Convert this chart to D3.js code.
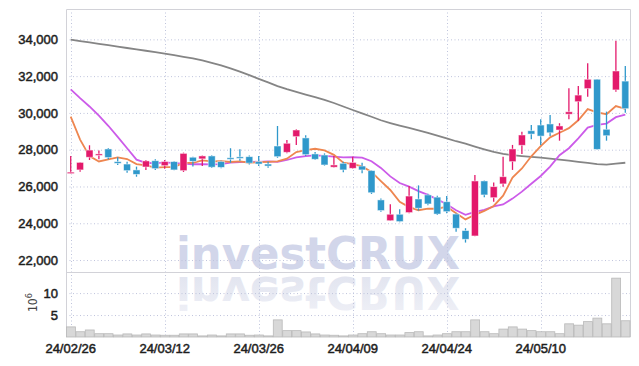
<!DOCTYPE html>
<html>
<head>
<meta charset="utf-8">
<script src="https://cdn.jsdelivr.net/npm/d3@7/dist/d3.min.js"></script>
<style>
  body { margin: 0; background: #fff; }
  svg { display: block; }
</style>
</head>
<body>
<div id="chart"></div>
<script>
const dates = [
  '24/02/26', '24/02/27', '24/02/28', '24/02/29', '24/03/04', '24/03/05', '24/03/06', '24/03/07', '24/03/08', '24/03/11',
  '24/03/12', '24/03/13', '24/03/14', '24/03/15', '24/03/18', '24/03/19', '24/03/20', '24/03/21', '24/03/22', '24/03/25',
  '24/03/26', '24/03/27', '24/03/28', '24/03/29', '24/04/01', '24/04/02', '24/04/03', '24/04/04', '24/04/05', '24/04/08',
  '24/04/09', '24/04/11', '24/04/12', '24/04/15', '24/04/16', '24/04/17', '24/04/18', '24/04/19', '24/04/22', '24/04/23',
  '24/04/24', '24/04/25', '24/04/26', '24/04/29', '24/04/30', '24/05/02', '24/05/03', '24/05/07', '24/05/08', '24/05/09',
  '24/05/10', '24/05/13', '24/05/14', '24/05/16', '24/05/17', '24/05/20', '24/05/21', '24/05/22', '24/05/23', '24/05/24'
];

const opens = [
  26720, 26900, 27590, 27730, 28040, 27350, 27220, 26900, 27060, 27400,
  27130, 27350, 26860, 27590, 27500, 27660, 27350, 27560, 27610, 27620,
  27350, 27220, 28200, 27860, 28710, 28640, 27770, 27710, 27050, 27260,
  26990, 27110, 26860, 25270, 24140, 24490, 24580, 25320, 25540, 25420,
  25170, 24500, 23600, 23310, 26300, 25390, 26140, 27350, 28240, 29030,
  29340, 29400, 29070, 29930, 30610, 31320, 31830, 29110, 31250, 31730
];
const highs = [
  27660, 27330, 28240, 27950, 28090, 27590, 27350, 27080, 27440, 27480,
  27440, 27380, 27840, 27620, 27680, 27700, 27400, 28080, 28020, 27680,
  27660, 27350, 29290, 28530, 29110, 28780, 27880, 27800, 27660, 27350,
  27620, 27290, 26880, 25350, 25030, 24760, 26030, 26060, 25600, 25500,
  25480, 24540, 23730, 26620, 26320, 26210, 27620, 28260, 28980, 29340,
  29650, 29890, 29440, 31340, 31460, 32700, 31850, 30070, 33920, 32550
];
const lows = [
  26700, 26800, 27440, 27480, 27480, 27170, 26750, 26530, 26900, 26900,
  26970, 26880, 26790, 27080, 27110, 27000, 26990, 27290, 27400, 27200,
  27110, 27020, 27560, 27800, 28260, 27660, 27440, 27130, 27030, 26780,
  26960, 26720, 25590, 24620, 24120, 24060, 24540, 24690, 24980, 24450,
  24540, 23540, 22950, 23290, 25410, 25170, 25990, 26900, 27770, 28570,
  28250, 28740, 28490, 29650, 29580, 30880, 28000, 28490, 31150, 30010
];
const closes = [
  26780, 27310, 27980, 27770, 27570, 27260, 26860, 26660, 27390, 26970,
  27350, 26900, 27800, 27370, 27660, 27050, 27040, 27510, 27570, 27270,
  27220, 27110, 27620, 28350, 29070, 27730, 27480, 27170, 27170, 26900,
  27310, 26900, 25660, 24690, 24490, 24090, 25480, 24820, 25050, 24500,
  24630, 23730, 23130, 26300, 25540, 25990, 26530, 28040, 28800, 28850,
  28740, 28920, 29290, 30060, 30970, 31830, 28020, 28760, 32280, 30230
];

// volume in millions of shares
const volumes = [
  2.3, 1.2, 1.6, 0.75, 0.75, 0.45, 0.7, 0.45, 0.7, 0.45,
  0.4, 0.4, 0.7, 0.7, 0.25, 0.45, 0.25, 0.7, 0.7, 0.4,
  0.45, 0.25, 3.9, 1.45, 1.45, 1.15, 0.7, 0.45, 0.4, 0.25,
  0.45, 0.75, 1.2, 0.75, 0.45, 0.45, 1.0, 1.2, 0.25, 0.45,
  0.75, 1.2, 1.2, 3.9, 1.2, 0.75, 1.8, 2.3, 1.8, 1.45,
  1.2, 1.2, 0.75, 3.0, 2.7, 3.5, 4.3, 3.0, 13.4, 3.7
];

const ma5 = [
  29800, 28550, 27650, 27360, 27480, 27580, 27490, 27220, 27150, 27030,
  27050, 27050, 27280, 27280, 27420, 27360, 27380, 27330, 27370, 27290,
  27320, 27340, 27360, 27510, 27870, 27980, 28050, 27960, 27720, 27290,
  27210, 27090, 26790, 26290, 25810, 25170, 24880, 24710, 24790, 24790,
  24900, 24550, 24210, 24460, 24670, 24940, 25500, 26480, 26980, 27640,
  28190, 28670, 28920, 29170, 29600, 30210, 30030, 29930, 30370, 30220
];
const ma10 = [
  31280, 30800, 30350, 29850, 29300, 28700, 28080, 27460, 27290, 27260,
  27310, 27270, 27250, 27210, 27220, 27200, 27220, 27300, 27320, 27350,
  27340, 27360, 27340, 27440, 27580, 27650, 27690, 27660, 27620, 27580,
  27590, 27570, 27370, 27010, 26550, 26190, 25990, 25750, 25540, 25300,
  25030, 24710, 24460, 24620, 24730, 24920, 25020, 25340, 25720, 26150,
  26570, 27080, 27700, 28080, 28620, 29200, 29350, 29420, 29770, 29910
];
const ma120 = [
  33980, 33900, 33830, 33750, 33680, 33600, 33530, 33450, 33380, 33300,
  33220, 33140, 33050, 32970, 32850, 32720, 32590, 32420, 32240, 32050,
  31850, 31660, 31460, 31290, 31140, 31000, 30860, 30710, 30540, 30350,
  30160, 29980, 29790, 29600, 29450, 29310, 29180, 29050, 28920, 28770,
  28620, 28460, 28330, 28170, 28020, 27880, 27770, 27700, 27650, 27610,
  27570, 27520, 27460, 27400, 27340, 27280, 27220, 27190, 27240, 27290
];

const priceTicks = [22000, 24000, 26000, 28000, 30000, 32000, 34000];
const volumeTicks = [5, 10];
const dateTicks = ['24/02/26', '24/03/12', '24/03/26', '24/04/09', '24/04/24', '24/05/10'];

const W = 639, H = 366;
const plotL = 66, plotR = 630, plotT = 9, priceB = 272, volB = 337;
const upColor = '#e3196b', downColor = '#2f98cb';
const gridColor = '#bfc4dc';

const svg = d3.select('#chart').append('svg')
  .attr('width', W)
  .attr('height', H)
  .style('font-family', '"DejaVu Sans Condensed", "DejaVu Sans", sans-serif');

const x = d3.scaleBand().domain(dates).range([plotL, plotR]);
const y = d3.scaleLinear([21350, 35650], [priceB, plotT]);
const yv = d3.scaleLinear([0, 14.8], [volB, priceB]);
const bw = x.bandwidth();
const cx = d => x(d) + bw / 2;

// fading fill for the watermark reflection
const fade = svg.append('defs').append('linearGradient')
  .attr('id', 'fade')
  .attr('x1', 0).attr('y1', 0).attr('x2', 0).attr('y2', 1);
fade.append('stop').attr('offset', '0%').attr('stop-color', '#f0f1f7');
fade.append('stop').attr('offset', '100%').attr('stop-color', '#dfe2ee');

// watermark + reflection
const mark = svg.append('g').attr('class', 'watermark')
  .style('font', 'bold 45px "DejaVu Sans", sans-serif');
mark.append('text')
  .attr('x', 176).attr('y', 269)
  .attr('textLength', 284)
  .attr('lengthAdjust', 'spacingAndGlyphs')
  .style('fill', '#d2d6ea')
  .text('investCRUX');
mark.append('text')
  .attr('transform', 'translate(0,546) scale(1,-1)')
  .attr('x', 176).attr('y', 269)
  .attr('textLength', 284)
  .attr('lengthAdjust', 'spacingAndGlyphs')
  .style('fill', 'url(#fade)')
  .text('investCRUX');

// grid
const grid = svg.append('g').attr('stroke', gridColor).attr('stroke-dasharray', '1,2.5');
grid.selectAll('line.h')
  .data(priceTicks)
  .join('line')
    .attr('class', 'h')
    .attr('x1', plotL).attr('x2', plotR)
    .attr('y1', d => y(d) + 0.5).attr('y2', d => y(d) + 0.5);
grid.selectAll('line.hv')
  .data(volumeTicks)
  .join('line')
    .attr('class', 'hv')
    .attr('x1', plotL).attr('x2', plotR)
    .attr('y1', d => yv(d) + 0.5).attr('y2', d => yv(d) + 0.5);
grid.selectAll('line.v')
  .data(dateTicks)
  .join('line')
    .attr('class', 'v')
    .attr('x1', d => Math.round(cx(d)) + 0.5).attr('x2', d => Math.round(cx(d)) + 0.5)
    .attr('y1', plotT).attr('y2', volB);

// frame
const frame = svg.append('g').attr('stroke', '#d2d2d8').attr('fill', 'none');
frame.append('path').attr('d', `M${plotL + 0.5},${volB}V${plotT + 0.5}H${plotR + 0.5}V${volB}`);
frame.append('line')
  .attr('x1', plotL).attr('x2', plotR)
  .attr('y1', priceB + 0.5).attr('y2', priceB + 0.5);

// volume bars
svg.append('g')
  .selectAll('rect')
  .data(volumes)
  .join('rect')
    .attr('x', (d, i) => x(dates[i]) + 0.5)
    .attr('y', d => yv(d))
    .attr('width', bw - 0.5)
    .attr('height', d => yv(0) - yv(d))
    .attr('fill', '#d8d8d8')
    .attr('stroke', '#b9b9b9')
    .attr('stroke-width', 0.8);

// moving averages
const line = d3.line().x((d, i) => cx(dates[i])).y(d => y(d));
[[ma120, '#858585'], [ma10, '#cc5be9'], [ma5, '#ee8650']].forEach(([vals, col]) => {
  svg.append('path')
    .datum(vals)
    .attr('d', line)
    .attr('fill', 'none')
    .attr('stroke', col)
    .attr('stroke-width', 1.8);
});

// candles
const candle = svg.append('g')
  .selectAll('g')
  .data(dates)
  .join('g')
    .attr('fill', (d, i) => closes[i] >= opens[i] ? upColor : downColor)
    .attr('stroke', (d, i) => closes[i] >= opens[i] ? upColor : downColor);

candle.append('line')
  .attr('x1', d => cx(d)).attr('x2', d => cx(d))
  .attr('y1', (d, i) => y(highs[i]))
  .attr('y2', (d, i) => y(lows[i]))
  .attr('stroke-width', 1.3);

candle.append('rect')
  .attr('x', d => cx(d) - 3.5)
  .attr('width', 7)
  .attr('y', (d, i) => y(Math.max(opens[i], closes[i])))
  .attr('height', (d, i) => Math.max(1.5, Math.abs(y(opens[i]) - y(closes[i]))))
  .attr('stroke', '#fff')
  .attr('stroke-opacity', 0.6)
  .attr('stroke-width', 0.8);

// axes
const labelStyle = sel => sel
  .call(g => g.select('.domain').remove())
  .call(g => g.selectAll('text')
    .style('font-size', '13px')
    .style('fill', '#1e1e1e')
    .style('stroke', '#1e1e1e')
    .style('stroke-width', 0.5));

svg.append('g')
  .attr('transform', `translate(${plotL - 5},0)`)
  .call(d3.axisLeft(y).tickValues(priceTicks).tickFormat(d3.format(',')).tickSize(0))
  .call(labelStyle);

svg.append('g')
  .attr('transform', `translate(${plotL - 5},0)`)
  .call(d3.axisLeft(yv).tickValues(volumeTicks).tickSize(0))
  .call(labelStyle);

svg.append('g')
  .attr('transform', `translate(0,${volB + 4})`)
  .call(d3.axisBottom(x).tickValues(dateTicks).tickSize(0))
  .call(labelStyle);

const unit = svg.append('text')
  .attr('transform', 'translate(37,312) rotate(-90)')
  .style('font-size', '12px')
  .style('fill', '#444')
  .text('10');
unit.append('tspan')
  .attr('dy', -5)
  .style('font-size', '9px')
  .text('6');
</script>
</body>
</html>
